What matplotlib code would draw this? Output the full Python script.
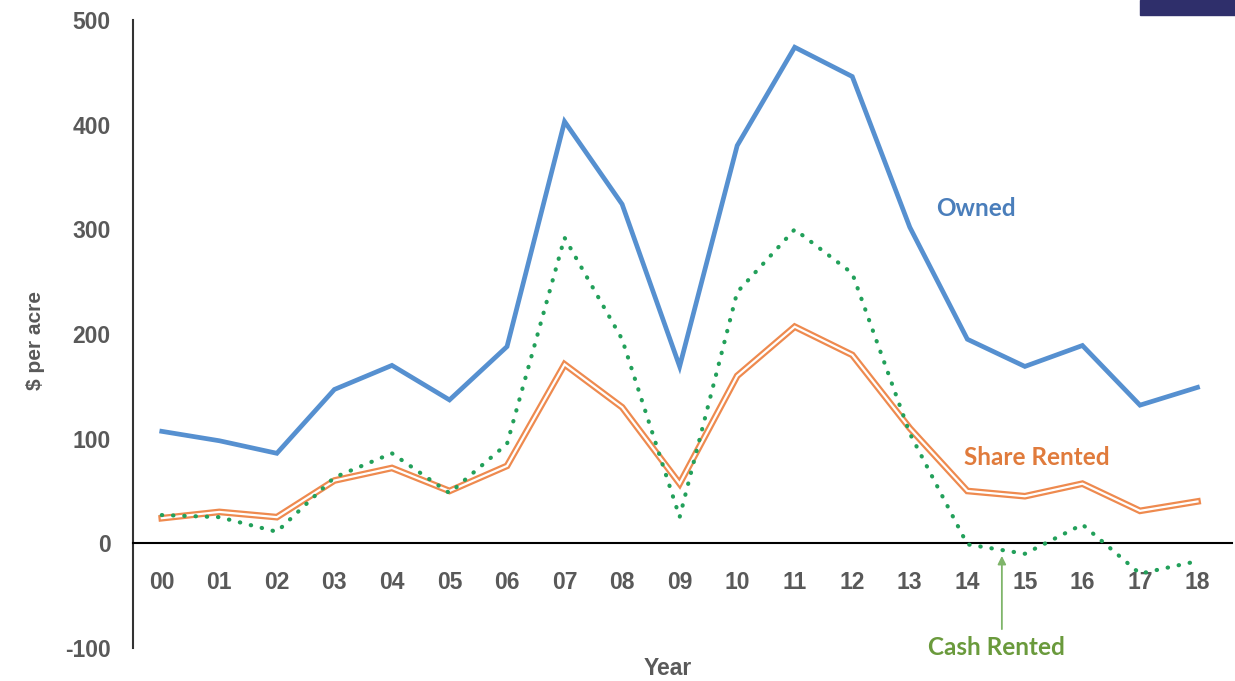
import numpy as np
import matplotlib
matplotlib.use("Agg")
import matplotlib.pyplot as plt
from matplotlib.patches import Rectangle

years = ["00", "01", "02", "03", "04", "05", "06", "07", "08", "09",
         "10", "11", "12", "13", "14", "15", "16", "17", "18"]
owned = [107, 98, 86, 147, 170, 137, 188, 403, 324, 169,
         380, 474, 446, 302, 195, 169, 189, 132, 149]
share_rented = [24, 30, 25, 60, 72, 50, 74, 171, 130, 57,
                160, 207, 180, 110, 50, 45, 57, 31, 40]
cash_rented = [27, 25, 11, 63, 86, 48, 95, 292, 195, 25,
               240, 300, 258, 105, -1, -10, 18, -29, -17]
yticks = [-100, 0, 100, 200, 300, 400, 500]

tick_color = "#595959"
plt.rcParams["axes.unicode_minus"] = False


def main():
    fig = plt.figure(figsize=(12.35, 6.81), dpi=100)
    ax = fig.add_axes([0.1077, 0.0485, 0.8899, 0.9221])
    x = np.arange(len(years))

    # Lines
    ax.plot(x, owned, color="#5690d0", lw=3.4, solid_joinstyle="miter", zorder=3)
    ax.plot(x, share_rented, color="#ee8a4f", lw=4.8, solid_joinstyle="miter", zorder=2)
    ax.plot(x, share_rented, color="white", lw=1.6, solid_joinstyle="miter", zorder=2)
    ax.plot(x, cash_rented, color="#22a05a", lw=3.0, dashes=(0.1, 2.6),
            dash_capstyle="round", zorder=4)

    ax.set_xlim(-0.5, 18.6)
    ax.set_ylim(-100, 500)

    # Axes styling
    for s in ["top", "right"]:
        ax.spines[s].set_visible(False)
    ax.spines["bottom"].set_position(("data", 0))
    ax.spines["bottom"].set_linewidth(1.5)
    ax.spines["left"].set_linewidth(1.5)
    ax.spines["left"].set_color("#333333")

    ax.set_xticks(x)
    ax.set_xticklabels(years)
    ax.set_yticks(yticks)
    ax.tick_params(axis="both", length=0, labelsize=16.5, labelcolor=tick_color)
    ax.tick_params(axis="x", pad=20)
    ax.tick_params(axis="y", pad=16)
    for lab in ax.get_xticklabels() + ax.get_yticklabels():
        lab.set_fontweight("bold")
        lab.set_family("Liberation Sans")

    fig.text(0.541, 0.018, "Year", ha="center", va="center", fontsize=16.5,
             fontweight="bold", color=tick_color, family="Liberation Sans")
    fig.text(0.029, 0.50, "$ per acre", ha="center", va="center", rotation=90,
             fontsize=15, fontweight="bold", color=tick_color, family="Liberation Sans")

    # Series labels
    ax.text(13.45, 320, "Owned", color="#4a7ebb", fontsize=17.5, fontweight="bold",
            family="Lato", va="center")
    ax.text(13.95, 82, "Share Rented", color="#e07b3c", fontsize=17.5,
            fontweight="bold", family="Lato", va="center")
    ax.text(14.5, -100, "Cash Rented", color="#6a9a3c", fontsize=17.5,
            fontweight="bold", family="Lato", ha="center", va="center")
    ax.annotate("", xy=(14.6, -12), xytext=(14.6, -82),
                arrowprops=dict(arrowstyle="-|>", color="#7fb56a", lw=1.3,
                                mutation_scale=12, shrinkA=0, shrinkB=0))

    # Navy block in the corner
    fig.patches.append(Rectangle((0.923, 0.978), 0.077, 0.022,
                                 transform=fig.transFigure, color="#2f2f6b"))

    fig.savefig("out.png", dpi=100)


if __name__ == "__main__":
    main()
